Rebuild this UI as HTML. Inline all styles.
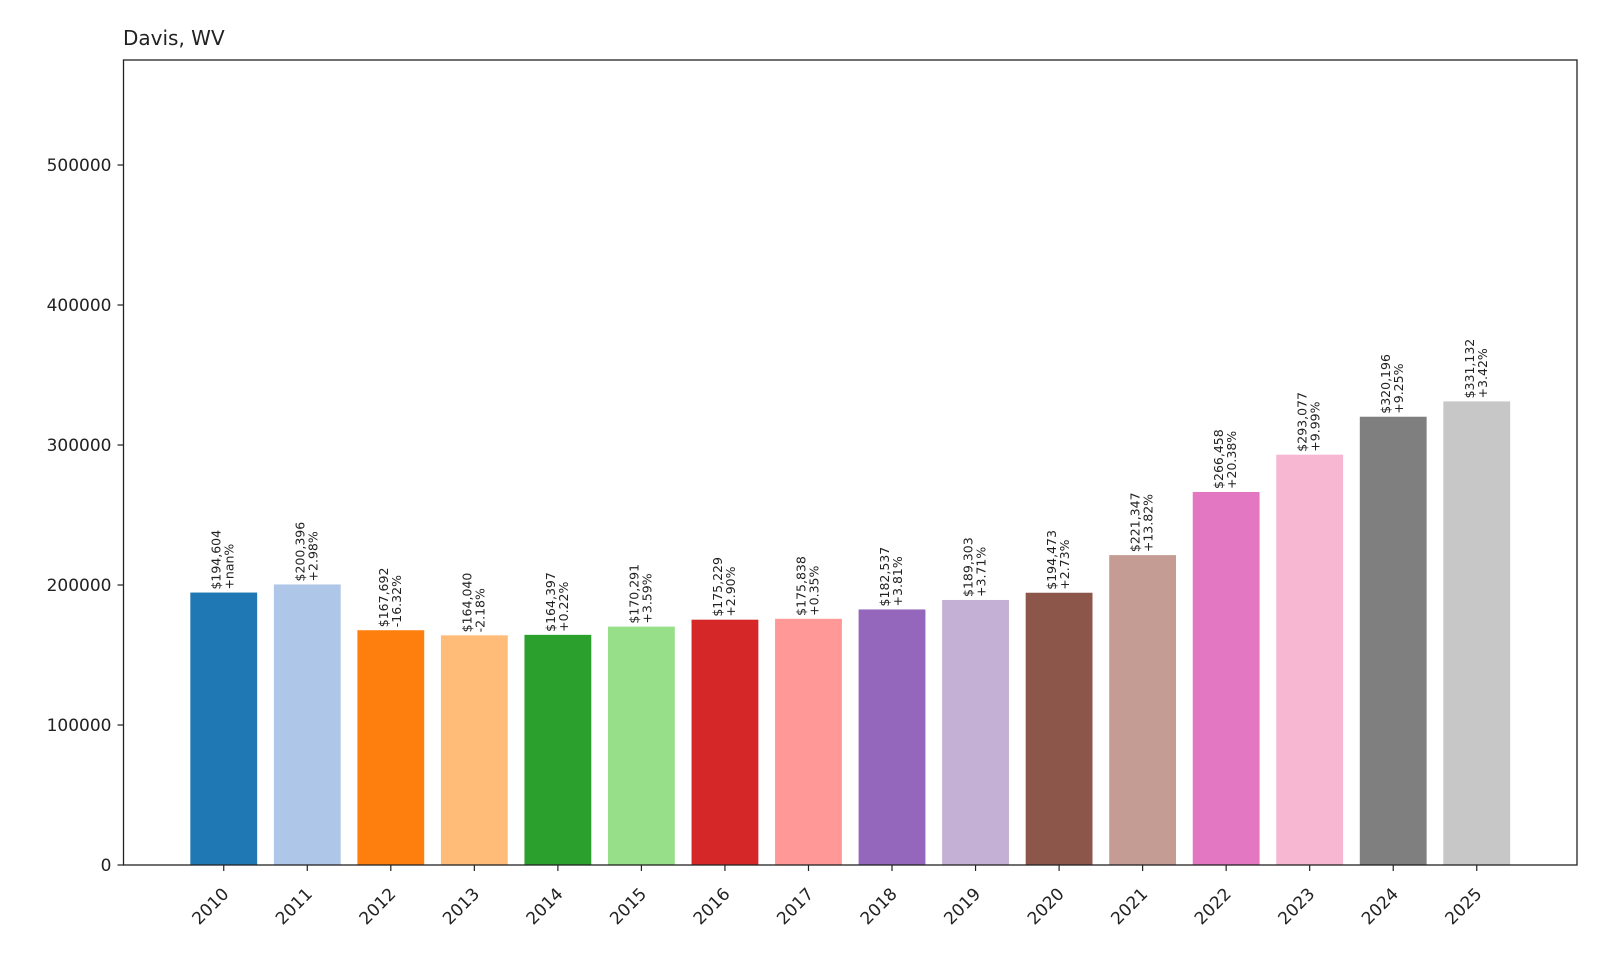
<!DOCTYPE html>
<html><head><meta charset="utf-8"><style>
body{margin:0;background:#fff;}
svg{display:block;font-family:"DejaVu Sans","Liberation Sans",sans-serif;}
</style></head><body>
<svg id="chart" width="1600" height="960" viewBox="0 0 1600 960">
<rect x="0" y="0" width="1600" height="960" fill="#fff"/>
<text x="123" y="45" font-size="20" fill="#222">Davis, WV</text>
<g id="bars"></g>
<g id="labels"></g>
<g id="yaxis"></g>
<g id="xaxis"></g>
<rect x="123.5" y="60" width="1453.5" height="805" fill="none" stroke="#222" stroke-width="1.3"/>
</svg>
<script>
const categories=["2010","2011","2012","2013","2014","2015","2016","2017","2018","2019","2020","2021","2022","2023","2024","2025"];
const values=[194604,200396,167692,164040,164397,170291,175229,175838,182537,189303,194473,221347,266458,293077,320196,331132];
const changes=["+nan%","+2.98%","-16.32%","-2.18%","+0.22%","+3.59%","+2.90%","+0.35%","+3.81%","+3.71%","+2.73%","+13.82%","+20.38%","+9.99%","+9.25%","+3.42%"];
const yTicks=[0,100000,200000,300000,400000,500000];
const colors=["#1f77b4","#aec7e8","#ff7f0e","#ffbb78","#2ca02c","#98df8a","#d62728","#ff9896","#9467bd","#c5b0d5","#8c564b","#c49c94","#e377c2","#f7b6d2","#7f7f7f","#c7c7c7"];
const NS="http://www.w3.org/2000/svg";
const L=123.5,R=1577,T=60,B=865,YMAX=575000,XMIN=-1.2,XMAX=categories.length-1+1.2;
const x=i=>L+(i-XMIN)/(XMAX-XMIN)*(R-L);
const y=v=>B-v/YMAX*(B-T);
const bw=0.8*(x(1)-x(0));
const bars=document.getElementById('bars'),labels=document.getElementById('labels'),ya=document.getElementById('yaxis'),xa=document.getElementById('xaxis');
function mk(t,a){const e=document.createElementNS(NS,t);for(const k in a)e.setAttribute(k,a[k]);return e;}
values.forEach((v,i)=>{
 const r=mk('rect',{x:x(i)-bw/2,y:y(v),width:bw,height:B-y(v),fill:colors[i]});
 
 
 bars.appendChild(r);
 const t=mk('text',{transform:`translate(${x(i)},${y(v)-3}) rotate(-90)`,'font-size':'12.5',fill:'#222'});
 
 
 const s1=mk('tspan',{x:0,dy:-3});s1.textContent='$'+v.toLocaleString('en-US');
 const s2=mk('tspan',{x:0,dy:13});s2.textContent=changes[i];
 t.appendChild(s1);t.appendChild(s2);labels.appendChild(t);
 const tk=mk('line',{x1:x(i),x2:x(i),y1:B,y2:B+6,stroke:'#222','stroke-width':1.2});
 
 
 xa.appendChild(tk);
 const lt=mk('text',{transform:`translate(${x(i)+6},${B+30}) rotate(-45)`,'font-size':'17','text-anchor':'end',fill:'#222'});
 
 
 lt.textContent=categories[i];xa.appendChild(lt);
});
yTicks.forEach(v=>{
 const tk=mk('line',{x1:L-6,x2:L,y1:y(v),y2:y(v),stroke:'#222','stroke-width':1.2});
 
 
 ya.appendChild(tk);
 const t=mk('text',{x:L-12,y:y(v)+6,'font-size':'17','text-anchor':'end',fill:'#222'});
 
 
 t.textContent=v;ya.appendChild(t);
});
</script>
</body></html>
